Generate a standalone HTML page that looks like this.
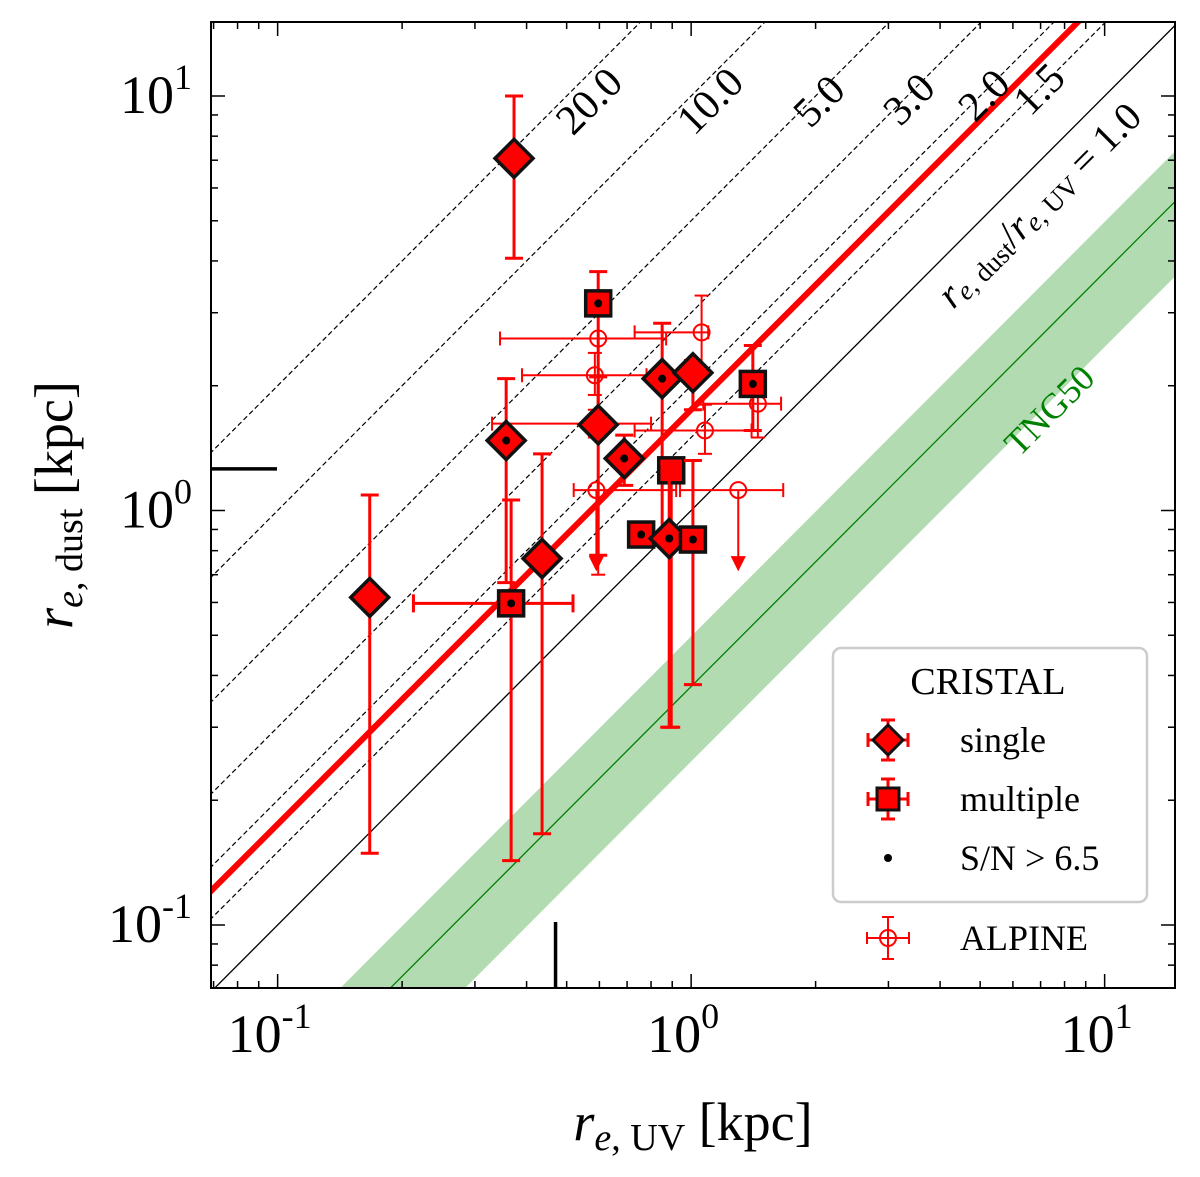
<!DOCTYPE html>
<html><head><meta charset="utf-8"><style>
html,body{margin:0;padding:0;background:#fff;overflow:hidden;width:1200px;height:1177px;}
svg{display:block;font-family:"Liberation Serif",serif;}
</style></head><body>
<svg id="chart" width="1200" height="1177" viewBox="0 0 1200 1177" xmlns="http://www.w3.org/2000/svg">
<defs><clipPath id="clip"><rect x="211" y="22" width="964" height="966"/></clipPath></defs>
<g id="plot" clip-path="url(#clip)"></g>
<g id="axes"></g>
</svg>
<script>
// ---- data ----
const ratioLines = [1.0, 1.5, 2.0, 3.0, 5.0, 10.0, 20.0];
const ratioLabels = ["1.5","2.0","3.0","5.0","10.0","20.0"];
const fitRatio = 1.75;
const tngRatioMid = 0.376, tngRatioLo = 0.248, tngRatioHi = 0.497;
// CRISTAL: type, x, y, yLo, yHi, xLo, xHi, hasDot
const crType = ["d","s","d","d","s","d","d","d","s","s","d","s","d","d","s"];
const crX = [0.373,0.596,0.851,1.01,1.41,0.357,0.596,0.689,0.895,0.757,0.885,1.01,0.436,0.167,0.367];
const crY = [7.07,3.16,2.08,2.15,2.02,1.475,1.61,1.335,1.25,0.875,0.856,0.851,0.766,0.617,0.597];
const crYLo = [4.06,1.62,0.88,1.75,1.56,0.67,0.78,1.15,0.30,0.87,0.30,0.38,0.166,0.149,0.143];
const crYHi = [10.0,3.77,2.83,2.3,2.5,2.08,2.1,1.52,1.3,0.9,1.3,1.32,1.37,1.09,1.06];
const crXLo = [0.373,0.596,0.851,1.01,1.41,0.357,0.596,0.689,0.895,0.757,0.885,1.01,0.436,0.167,0.213];
const crXHi = [0.373,0.596,0.851,1.01,1.41,0.357,0.596,0.689,0.895,0.757,0.885,1.01,0.436,0.167,0.518];
const crDot = [0,1,1,0,1,1,0,1,0,1,1,1,0,0,1];
// ALPINE: x, y, x range, y range, upper-limit flag
const alX = [1.06,0.596,0.585,0.585,1.08,1.45,0.59,1.30];
const alY = [2.69,2.6,2.12,1.62,1.56,1.81,1.12,1.12];
const alXLo = [0.73,0.345,0.39,0.33,0.73,1.07,0.52,0.94];
const alXHi = [1.10,0.87,0.78,0.80,1.40,1.65,0.92,1.67];
const alYLo = [2.2,0.7,1.9,1.5,1.37,1.5,0.8,0.8];
const alYHi = [3.3,3.1,2.4,1.75,1.8,2.1,1.12,1.12];
const alLim = [0,0,0,0,0,0,1,1];
const xTicks = [0.1,1,10], xExp = ["-1","0","1"];
const yTicks = [0.1,1,10], yExp = ["-1","0","1"];

// ---- axes ----
const L=211,R=1175,T=22,B=988;
const xmin=Math.log10(0.069), xmax=xmin+(R-L)/413.5;
const ymin=-1.152, ymax=ymin+(B-T)/414.5;
const X=v=>L+(Math.log10(v)-xmin)/(xmax-xmin)*(R-L);
const Y=v=>B-(Math.log10(v)-ymin)/(ymax-ymin)*(B-T);
const NS="http://www.w3.org/2000/svg";
const plot=document.getElementById('plot'), axes=document.getElementById('axes');
function mk(tag,attrs,parent){const e=document.createElementNS(NS,tag);for(const k in attrs)e.setAttribute(k,attrs[k]);(parent||plot).appendChild(e);return e;}
const x0=0.05,x1=20;

let band=mk('polygon',{points:`${X(x0)},${Y(x0*tngRatioHi)} ${X(x1)},${Y(x1*tngRatioHi)} ${X(x1)},${Y(x1*tngRatioLo)} ${X(x0)},${Y(x0*tngRatioLo)}`,fill:'#b2dbb2'});


let tl=mk('line',{x1:X(x0),y1:Y(x0*tngRatioMid),x2:X(x1),y2:Y(x1*tngRatioMid),stroke:'#008000','stroke-width':1.3});



ratioLines.forEach(r=>{
  const ln=mk('line',{x1:X(x0),y1:Y(x0*r),x2:X(x1),y2:Y(x1*r),stroke:'#000','stroke-width':r===1?1.3:1.2,'stroke-dasharray':r===1?'':'5,3'});
  
  
});
let fl=mk('line',{x1:X(x0),y1:Y(x0*fitRatio),x2:X(x1),y2:Y(x1*fitRatio),stroke:'#ff0000','stroke-width':6});



const lblPos=[[1042,92],[987,98],[912,102],[822,104],[713,104],[592,104]];
ratioLabels.forEach((t,i)=>{
  const e=mk('text',{x:lblPos[i][0],y:lblPos[i][1],'font-size':42,'text-anchor':'middle','dominant-baseline':'middle',transform:`rotate(-45 ${lblPos[i][0]} ${lblPos[i][1]})`});
  e.textContent=t;
  
  
});
{
  const e=mk('text',{x:1042,y:208,'font-size':40,'text-anchor':'middle','dominant-baseline':'middle',transform:'rotate(-45 1042 208)','font-style':'italic'});
  e.innerHTML='r<tspan font-size="27" dy="7">e, </tspan><tspan font-size="27" font-style="normal">dust</tspan><tspan dy="-7" font-style="normal">/</tspan>r<tspan font-size="27" dy="7">e, </tspan><tspan font-size="27" font-style="normal">UV</tspan><tspan dy="-7" font-style="normal"> = 1.0</tspan>';
  
  
}
{
  const e=mk('text',{x:1052,y:413,'font-size':36,fill:'#008000','text-anchor':'middle','dominant-baseline':'middle',transform:'rotate(-45 1052 413)'});
  e.textContent='TNG50';
  
  
}

alX.forEach((v,i)=>{
  const g=mk('g',{stroke:'#ff0000','stroke-width':2,fill:'none'});
  
  
  const cx=X(v),cy=Y(alY[i]);
  mk('line',{x1:X(alXLo[i]),y1:cy,x2:X(alXHi[i]),y2:cy},g);
  mk('line',{x1:X(alXLo[i]),y1:cy-7,x2:X(alXLo[i]),y2:cy+7},g);
  mk('line',{x1:X(alXHi[i]),y1:cy-7,x2:X(alXHi[i]),y2:cy+7},g);
  if(alLim[i]){
    const yb=cy+75;
    mk('line',{x1:cx,y1:cy,x2:cx,y2:yb},g);
    mk('polygon',{points:`${cx-6},${yb-8} ${cx+6},${yb-8} ${cx},${yb+4}`,fill:'#ff0000'},g);
  } else {
    mk('line',{x1:cx,y1:Y(alYLo[i]),x2:cx,y2:Y(alYHi[i])},g);
    mk('line',{x1:cx-7,y1:Y(alYLo[i]),x2:cx+7,y2:Y(alYLo[i])},g);
    mk('line',{x1:cx-7,y1:Y(alYHi[i]),x2:cx+7,y2:Y(alYHi[i])},g);
  }
  mk('circle',{cx,cy,r:8,fill:'none'},g);
});

crX.forEach((v,i)=>{
  const g=mk('g',{});
  
  
  const cx=X(v),cy=Y(crY[i]);
  const eg=mk('g',{stroke:'#ff0000','stroke-width':3},g);
  const yl=Y(crYLo[i]),yh=Y(crYHi[i]);
  mk('line',{x1:cx,y1:yl,x2:cx,y2:yh},eg);
  mk('line',{x1:cx-9,y1:yl,x2:cx+9,y2:yl},eg);
  mk('line',{x1:cx-9,y1:yh,x2:cx+9,y2:yh},eg);
  if(crXLo[i]!==crXHi[i]){
    const xl=X(crXLo[i]),xh=X(crXHi[i]);
    mk('line',{x1:xl,y1:cy,x2:xh,y2:cy},eg);
    mk('line',{x1:xl,y1:cy-9,x2:xl,y2:cy+9},eg);
    mk('line',{x1:xh,y1:cy-9,x2:xh,y2:cy+9},eg);
  }
  if(crType[i]==='d') mk('polygon',{points:`${cx},${cy-19} ${cx+19},${cy} ${cx},${cy+19} ${cx-19},${cy}`,fill:'#ff0000',stroke:'#111','stroke-width':3.5},g);
  else mk('rect',{x:cx-12.5,y:cy-12.5,width:25,height:25,fill:'#ff0000',stroke:'#111','stroke-width':3.5},g);
  if(crDot[i]) mk('circle',{cx,cy,r:4,fill:'#000'},g);
});

let m1=mk('line',{x1:211,y1:Y(1.26),x2:277,y2:Y(1.26),stroke:'#000','stroke-width':3.5},axes);


let m2=mk('line',{x1:X(0.47),y1:922,x2:X(0.47),y2:988,stroke:'#000','stroke-width':3.5},axes);



let fr=mk('rect',{x:L,y:T,width:R-L,height:B-T,fill:'none',stroke:'#000','stroke-width':2},axes);


for(let d=-2;d<=1;d++)for(let m=1;m<=9;m++){
  const v=m*Math.pow(10,d),len=m===1?14:7;
  const px=X(v); if(px>=L&&px<=R){mk('line',{x1:px,y1:B,x2:px,y2:B-len,stroke:'#000','stroke-width':1.5},axes);mk('line',{x1:px,y1:T,x2:px,y2:T+len,stroke:'#000','stroke-width':1.5},axes);}
  const py=Y(v); if(py>=T&&py<=B){mk('line',{x1:L,y1:py,x2:L+len,y2:py,stroke:'#000','stroke-width':1.5},axes);mk('line',{x1:R,y1:py,x2:R-len,y2:py,stroke:'#000','stroke-width':1.5},axes);}
}
xTicks.forEach((v,i)=>{
  const e=mk('text',{x:X(v)-8,y:1052,'font-size':54,'text-anchor':'middle'},axes);
  e.innerHTML=`10<tspan font-size="36" dy="-24">${xExp[i]}</tspan>`;
  
  
});
yTicks.forEach((v,i)=>{
  const e=mk('text',{x:192,y:Y(v)+17,'font-size':54,'text-anchor':'end'},axes);
  e.innerHTML=`10<tspan font-size="36" dy="-24">${yExp[i]}</tspan>`;
  
  
});
{
  const e=mk('text',{x:693,y:1140,'font-size':54,'text-anchor':'middle'},axes);
  e.innerHTML='<tspan font-style="italic">r</tspan><tspan font-size="38" dy="10"><tspan font-style="italic">e</tspan>, UV</tspan><tspan dy="-10"> [kpc]</tspan>';
  
  
}
{
  const e=mk('text',{x:72,y:505,'font-size':54,'text-anchor':'middle',transform:'rotate(-90 72 505)'},axes);
  e.innerHTML='<tspan font-style="italic">r</tspan><tspan font-size="38" dy="10"><tspan font-style="italic">e</tspan>, dust</tspan><tspan dy="-10"> [kpc]</tspan>';
  
  
}

const lg=mk('g',{},axes);


mk('rect',{x:833,y:648,width:314,height:254,rx:8,fill:'#fff',stroke:'#ccc','stroke-width':2.5},lg);
let lt=mk('text',{x:988,y:694,'font-size':38,'text-anchor':'middle'},lg);lt.textContent='CRISTAL';


const ent=[['single',740],['multiple',799],['S/N > 6.5',858],['ALPINE',938]];
ent.forEach(([t,y],i)=>{
  const eg=mk('g',{},lg);
  
  
  const cx=888;
  if(i<2){
    const gg=mk('g',{stroke:'#ff0000','stroke-width':3},eg);
    mk('line',{x1:cx-20,y1:y,x2:cx+20,y2:y},gg);mk('line',{x1:cx,y1:y-20,x2:cx,y2:y+20},gg);
    mk('line',{x1:cx-20,y1:y-7,x2:cx-20,y2:y+7},gg);mk('line',{x1:cx+20,y1:y-7,x2:cx+20,y2:y+7},gg);
    mk('line',{x1:cx-7,y1:y-20,x2:cx+7,y2:y-20},gg);mk('line',{x1:cx-7,y1:y+20,x2:cx+7,y2:y+20},gg);
    if(i===0) mk('polygon',{points:`${cx},${y-15} ${cx+15},${y} ${cx},${y+15} ${cx-15},${y}`,fill:'#ff0000',stroke:'#111','stroke-width':3},eg);
    else mk('rect',{x:cx-11,y:y-11,width:22,height:22,fill:'#ff0000',stroke:'#111','stroke-width':3},eg);
  } else if(i===2){ mk('circle',{cx,cy:y,r:4,fill:'#000'},eg); }
  else {
    const gg=mk('g',{stroke:'#ff0000','stroke-width':2,fill:'none'},eg);
    mk('line',{x1:cx-21,y1:y,x2:cx+21,y2:y},gg);mk('line',{x1:cx,y1:y-21,x2:cx,y2:y+21},gg);
    mk('line',{x1:cx-21,y1:y-6,x2:cx-21,y2:y+6},gg);mk('line',{x1:cx+21,y1:y-6,x2:cx+21,y2:y+6},gg);
    mk('line',{x1:cx-6,y1:y-21,x2:cx+6,y2:y-21},gg);mk('line',{x1:cx-6,y1:y+21,x2:cx+6,y2:y+21},gg);
    mk('circle',{cx,cy:y,r:8},gg);
  }
  const tx=mk('text',{x:960,y:y+12,'font-size':36},eg);tx.textContent=t;
});
</script>
</body></html>
